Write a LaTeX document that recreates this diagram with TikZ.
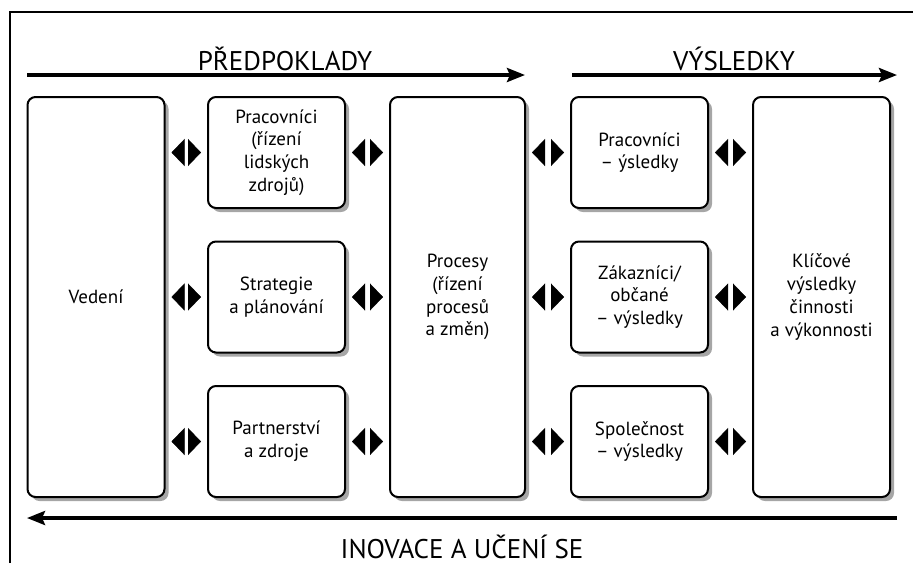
\documentclass[tikz,border=0pt]{standalone}
\usepackage{fontspec}
\setmainfont{PT Sans}
\usetikzlibrary{arrows.meta,shadows}
\tikzset{
  box/.style={draw, line width=1pt, rounded corners=4pt, fill=white, align=center,
    font=\fontsize{9.5}{11.4}\selectfont, inner sep=2pt,
    drop shadow={shadow xshift=2pt, shadow yshift=-2pt, fill=black!35, opacity=1}},
  smallbox/.style={box, minimum width=68.5pt, minimum height=55.5pt},
  tallbox/.style={box, minimum width=68.5pt, minimum height=200pt},
  flow/.style={line width=1.8pt, -{Stealth[length=9pt, width=7pt, inset=1.5pt]}},
  link/.style={white, line width=0.2pt, shorten <=3pt, shorten >=3pt,
    {Triangle[color=black, fill=black, length=6.5pt, width=13.5pt]}-{Triangle[color=black, fill=black, length=6.5pt, width=13.5pt]}},
  head/.style={font=\fontsize{13.5}{16}\selectfont, inner sep=0pt}
}
\begin{document}
\begin{tikzpicture}[x=0.5pt, y=-0.5pt]
\useasboundingbox (0,0) rectangle (913,563);
\coordinate (frBL) at (10,563);
\coordinate (frTL) at (10,12);
\coordinate (frTR) at (913,12);
\draw[line width=1pt] (frBL) -- (frTL) -- (frTR);

\coordinate (predL) at (27,75);
\coordinate (predR) at (525,75);
\coordinate (vysL) at (572,75);
\coordinate (vysR) at (897,75);
\coordinate (inoR) at (897,518);
\coordinate (inoL) at (27,518);
\draw[flow] (predL) -- (predR);
\draw[flow] (vysL) -- (vysR);
\draw[flow] (inoR) -- (inoL);

\filldraw[black] (285,70) node[head, anchor=base] (pred) {PŘEDPOKLADY};
\filldraw[black] (734,70) node[head, anchor=base] (vys) {VÝSLEDKY};
\filldraw[black] (462,558) node[head, anchor=base] (ino) {INOVACE A UČENÍ SE};

\node[tallbox] (ved) at (96,297) {Vedení};

\node[smallbox] (prac) at (276.5,152.5) {Pracovníci\\(řízení\\lidských\\zdrojů)};
\node[smallbox] (strat) at (276.5,297) {Strategie\\a plánování};
\node[smallbox] (part) at (276.5,441.5) {Partnerství\\a zdroje};

\node[tallbox, minimum width=67.5pt] (proc) at (457.5,297) {Procesy\\(řízení\\procesů\\a změn)};

\node[smallbox] (pracv) at (639.5,152.5) {Pracovníci\\– ýsledky};
\node[smallbox] (zak) at (639.5,297) {Zákazníci/\\občané\\– výsledky};
\node[smallbox] (spol) at (639.5,441.5) {Společnost\\– výsledky};

\node[tallbox] (klic) at (821.5,297) {Klíčové\\výsledky\\činnosti\\a výkonnosti};

\draw[link] (ved.east |- prac.west) -- (prac.west);
\draw[link] (ved.east) -- (strat.west);
\draw[link] (ved.east |- part.west) -- (part.west);
\draw[link] (prac.east) -- (proc.west |- prac.east);
\draw[link] (strat.east) -- (proc.west);
\draw[link] (part.east) -- (proc.west |- part.east);
\draw[link] (proc.east |- pracv.west) -- (pracv.west);
\draw[link] (proc.east) -- (zak.west);
\draw[link] (proc.east |- spol.west) -- (spol.west);
\draw[link] (pracv.east) -- (klic.west |- pracv.east);
\draw[link] (zak.east) -- (klic.west);
\draw[link] (spol.east) -- (klic.west |- spol.east);
\end{tikzpicture}
\end{document}
